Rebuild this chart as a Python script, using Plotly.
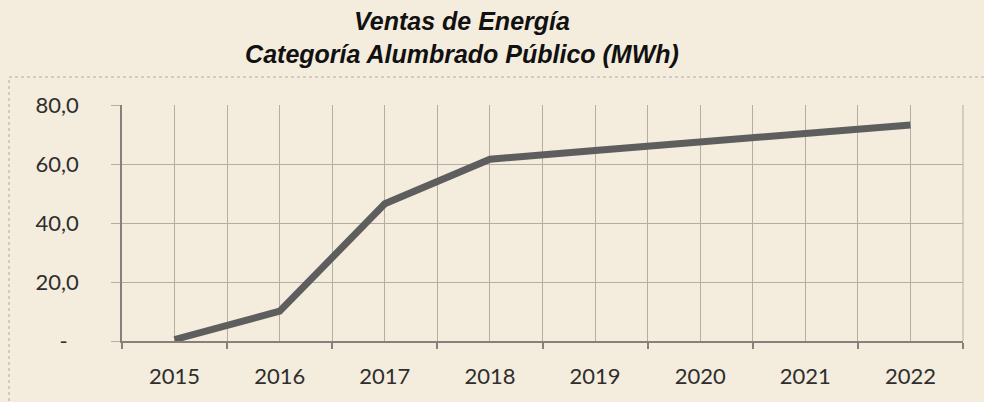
import plotly.graph_objects as go

years = ["2015", "2016", "2017", "2018", "2019", "2020", "2021", "2022"]
ventas = [0.5, 10.1, 46.5, 61.6, 64.6, 67.6, 70.4, 73.2]
y_tickvals = [0, 20, 40, 60, 80]
y_ticktext = ["-\u00a0\u00a0", "20,0", "40,0", "60,0", "80,0"]

W, H = 984, 402
ml, mr, mt, mb = 122, 21, 105, 61
pw, ph = W - ml - mr, H - mt - mb

bg = "#f4ecdc"
grid = "#b4ada3"
axis = "#86817b"
txt = "#2e2e2e"

x = list(range(len(years)))

fig = go.Figure()
fig.add_trace(go.Scatter(
    x=x, y=ventas, mode="lines",
    line=dict(color="#5e5e5e", width=7),
    hoverinfo="skip", showlegend=False,
))

def px_to_paper_x(p):
    return (p - ml) / pw

def px_to_paper_y(p):
    return (H - mb - p) / ph

fig.add_shape(type="rect", xref="paper", yref="paper",
              x0=px_to_paper_x(9), x1=px_to_paper_x(1000),
              y0=px_to_paper_y(420), y1=px_to_paper_y(77),
              line=dict(color="#b3aa9e", width=1, dash="dot"), layer="below")

fig.update_layout(
    width=W, height=H,
    margin=dict(l=ml, r=mr, t=mt, b=mb),
    paper_bgcolor=bg, plot_bgcolor=bg,
    title=dict(
        text="<b><i>Ventas de Energía<br>Categoría Alumbrado Público (MWh)</i></b>",
        font=dict(family="Liberation Sans, Arial, sans-serif", size=25, color="#111111"),
        x=462 / W, xref="container", xanchor="center",
        y=1 - 30 / H, yref="container", yanchor="middle",
    ),
    xaxis=dict(
        range=[-0.5, len(years) - 0.5],
        tickvals=x, ticktext=years,
        ticks="", showgrid=True, gridcolor=grid, gridwidth=1,
        zeroline=False,
        showline=True, linecolor=axis, linewidth=1.5,
        minor=dict(tickvals=[i - 0.5 for i in range(len(years) + 1)],
                   ticks="outside", ticklen=6, tickcolor=axis, tickwidth=1.5,
                   showgrid=True, gridcolor=grid, gridwidth=1),
        tickfont=dict(family="Lato, sans-serif", size=22, color=txt),
        ticklabelstandoff=15,
        fixedrange=True,
    ),
    yaxis=dict(
        range=[0, 80],
        tickvals=y_tickvals, ticktext=y_ticktext,
        ticks="outside", ticklen=9, tickcolor=grid, tickwidth=1,
        showgrid=True, gridcolor=grid, gridwidth=1,
        zeroline=False,
        showline=True, linecolor=axis, linewidth=1.5,
        tickfont=dict(family="Lato, sans-serif", size=22, color=txt),
        ticklabelstandoff=28,
        fixedrange=True,
    ),
)

fig.add_shape(type="line", xref="paper", yref="paper", x0=1, x1=1, y0=0, y1=1,
              line=dict(color=grid, width=1))

fig.write_html(
    "out.html",
    config={"displayModeBar": False},
    post_script="document.body.style.margin='0';document.body.style.overflow='hidden';",
)
